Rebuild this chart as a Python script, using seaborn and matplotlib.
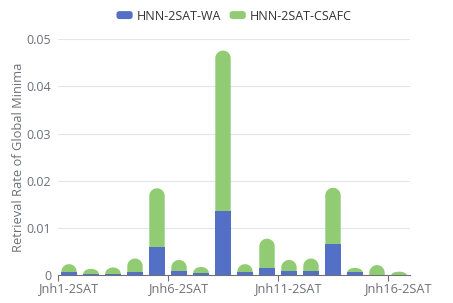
import matplotlib
matplotlib.use('Agg')
import numpy as np
import pandas as pd
import matplotlib.pyplot as plt
import seaborn as sns
from matplotlib.path import Path
from matplotlib.patches import PathPatch, FancyBboxPatch, Patch
from matplotlib.legend_handler import HandlerPatch

categories = ["Jnh%d-2SAT" % i for i in range(1, 17)]
wa = [0.0006, 0.0003, 0.0003, 0.0006, 0.0059, 0.0008, 0.0005, 0.0135,
      0.0006, 0.0015, 0.0008, 0.0008, 0.0066, 0.0006, 0.0000, 0.0000]
csafc = [0.0017, 0.0010, 0.0013, 0.0029, 0.0125, 0.0024, 0.0012, 0.0341,
         0.0017, 0.0062, 0.0024, 0.0027, 0.0119, 0.0009, 0.0021, 0.0007]
yticks = [0, 0.01, 0.02, 0.03, 0.04, 0.05]
ytick_labels = ["0", "0.01", "0.02", "0.03", "0.04", "0.05"]

BLUE = "#5470c6"
GREEN = "#91cc75"
GREY = "#6e7079"

df = pd.DataFrame({"cat": categories, "wa": wa, "csafc": csafc})
df["total"] = df["wa"] + df["csafc"]

sns.set_style("white")
plt.rcParams['font.family'] = ['Open Sans', 'DejaVu Sans']

fig = plt.figure(figsize=(4.53, 3.03), dpi=100)
ax = fig.add_axes([58 / 453, 1 - 275 / 303, 352 / 453, (275 - 39.3) / 303])

n0 = len(ax.patches)
sns.barplot(data=df, x="cat", y="total", color=GREEN, saturation=1, width=0.7, ax=ax)
green_patches = ax.patches[n0:]
n1 = len(ax.patches)
sns.barplot(data=df, x="cat", y="wa", color=BLUE, saturation=1, width=0.7, ax=ax)
for p in ax.patches[n1:]:
    p.set_edgecolor("none")
    p.set_zorder(2)

ax.set_ylim(0, 0.05)
ax.set_xlim(-0.5, len(categories) - 0.5)

# rounded tops on the stacked green bars (radius = half bar width in pixels)
ax_h_px = (275 - 39.3)
ax_w_px = 352
px_per_y = ax_h_px / 0.05
px_per_x = ax_w_px / len(categories)
for p, base in zip(green_patches, df["wa"]):
    x0, w, top = p.get_x(), p.get_width(), p.get_height()
    p.set_visible(False)
    rx = w / 2
    ry = min(rx * px_per_x / px_per_y, top - base)
    t = np.linspace(np.pi, 0, 30)
    xs = x0 + rx + rx * np.cos(t)
    ys = top - ry + ry * np.sin(t)
    verts = [(x0, 0)] + list(zip(xs, ys)) + [(x0 + w, 0), (x0, 0)]
    codes = [Path.MOVETO] + [Path.LINETO] * (len(verts) - 2) + [Path.CLOSEPOLY]
    ax.add_patch(PathPatch(Path(verts, codes), facecolor=GREEN, edgecolor="none", zorder=1))

ax.set_yticks(yticks)
ax.set_yticklabels(ytick_labels)
ax.set_xticks([0, 5, 10, 15])
ax.set_xticklabels([categories[i] for i in [0, 5, 10, 15]])
ax.set_xticks([-0.5, 4.5, 9.5, 14.5], minor=True)
ax.tick_params(axis="y", length=0, pad=5, labelsize=9, labelcolor=GREY)
ax.tick_params(axis="x", which="major", length=0, pad=5, labelsize=9.2, labelcolor=GREY)
ax.tick_params(axis="x", which="minor", length=4, width=0.8, color=GREY, bottom=True)
ax.set_xlabel("")
ax.set_ylabel("Retrieval Rate of Global Minima", fontsize=9.3, color=GREY, labelpad=1)

ax.grid(axis="y", color="#e0e6f1", linewidth=0.8)
ax.set_axisbelow(True)
for s in ["top", "right", "left"]:
    ax.spines[s].set_visible(False)
ax.spines["bottom"].set_color(GREY)
ax.spines["bottom"].set_linewidth(0.8)
ax.spines["bottom"].set_zorder(3)


class RoundBox(HandlerPatch):
    def create_artists(self, legend, orig_handle, xdescent, ydescent,
                       width, height, fontsize, trans):
        box = FancyBboxPatch((-xdescent, -ydescent), width, height,
                             boxstyle="round,pad=0,rounding_size=%f" % (height * 0.4),
                             facecolor=orig_handle.get_facecolor(),
                             edgecolor="none", transform=trans)
        return [box]


handles = [Patch(facecolor=BLUE), Patch(facecolor=GREEN)]
fig.legend(handles, ["HNN-2SAT-WA", "HNN-2SAT-CSAFC"], loc="center",
           bbox_to_anchor=(234 / 453, 1 - 16 / 303), ncol=2, frameon=False,
           fontsize=9, labelcolor="#333333", handlelength=1.3, handleheight=0.6,
           handletextpad=0.3, columnspacing=0.7,
           handler_map={Patch: RoundBox()})

fig.savefig("out.png", dpi=100, facecolor="white")
